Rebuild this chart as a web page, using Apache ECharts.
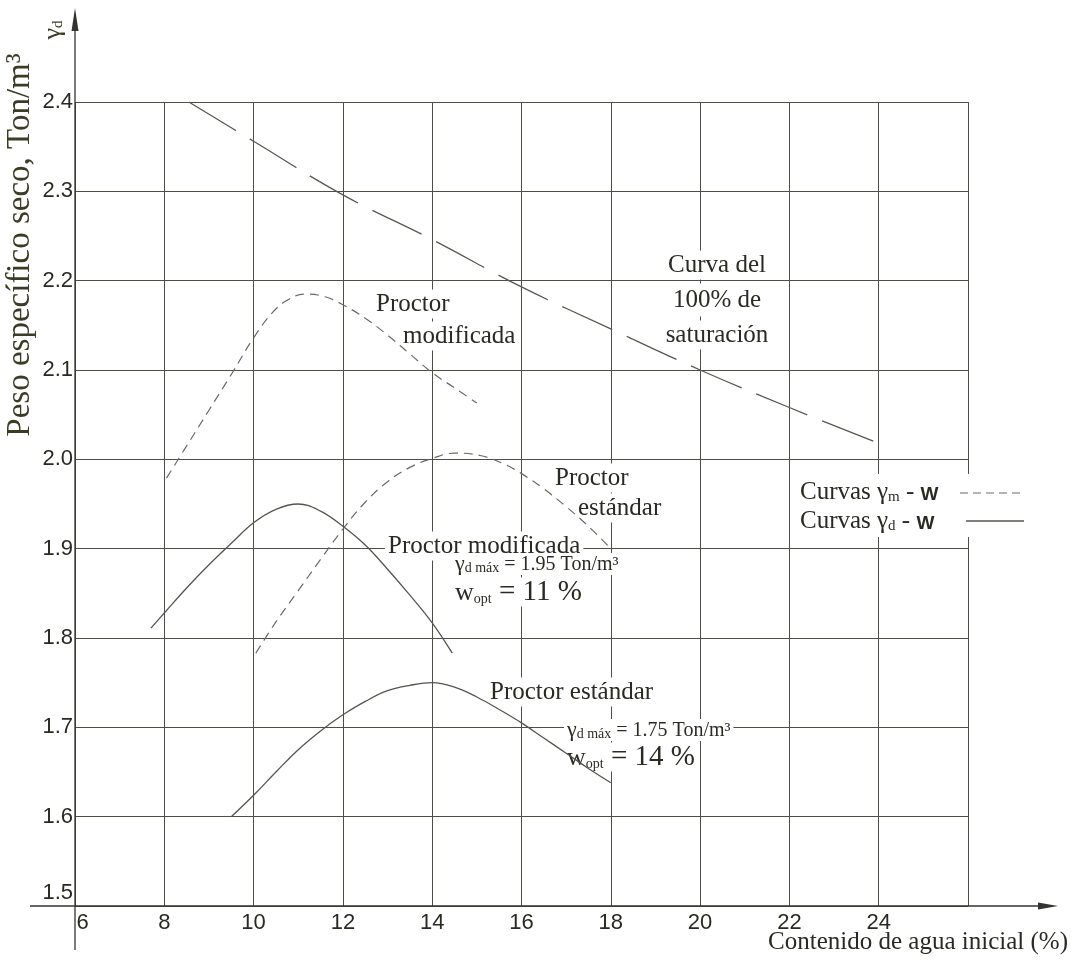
<!DOCTYPE html>
<html>
<head>
<meta charset="utf-8">
<title>Curvas de compactación Proctor</title>
<script src="https://cdn.jsdelivr.net/npm/echarts@6/dist/echarts.min.js"></script>
<style>
  html, body { margin: 0; padding: 0; background: #ffffff; }
  #chart { width: 1076px; height: 967px; }
</style>
</head>
<body>
<div id="chart"></div>
<script>
// Axis ticks
const xTicks = [6, 8, 10, 12, 14, 16, 18, 20, 22, 24, 26];
const yTicks = [1.5, 1.6, 1.7, 1.8, 1.9, 2.0, 2.1, 2.2, 2.3, 2.4];

// Curva del 100% de saturación
const satW = [8.55, 10, 12, 14, 16, 18, 20, 22, 24];
const satGamma = [2.4, 2.356, 2.296, 2.246, 2.193, 2.146, 2.1, 2.058, 2.018];

// Proctor modificada, curva γm - w (húmeda)
const modWetW = [8.05, 8.5, 9, 9.5, 10, 10.4, 10.75, 11.15, 11.6, 12, 12.5, 13, 13.5, 14, 14.5, 15];
const modWetGamma = [1.979, 2.015, 2.055, 2.095, 2.136, 2.163, 2.178, 2.185, 2.182, 2.173, 2.158, 2.139, 2.118, 2.097, 2.08, 2.063];

// Proctor estándar, curva γm - w (húmeda)
const stdWetW = [10.05, 10.5, 11, 11.5, 12, 12.5, 13, 13.5, 14, 14.5, 15.1, 15.6, 16, 16.5, 17, 17.5, 18];
const stdWetGamma = [1.783, 1.818, 1.853, 1.888, 1.922, 1.952, 1.975, 1.991, 2.001, 2.007, 2.004, 1.995, 1.984, 1.967, 1.947, 1.925, 1.9];

// Proctor modificada, curva γd - w (seca)
const modDryW = [7.7, 8, 8.5, 9, 9.5, 10, 10.5, 11, 11.5, 12, 12.5, 13, 13.5, 14, 14.45];
const modDryGamma = [1.811, 1.828, 1.856, 1.882, 1.906, 1.929, 1.944, 1.95, 1.942, 1.925, 1.904, 1.877, 1.848, 1.817, 1.783];

// Proctor estándar, curva γd - w (seca)
const stdDryW = [9.5, 10, 10.5, 11, 11.5, 12, 12.5, 13, 13.5, 14, 14.5, 15, 15.5, 16, 16.5, 17, 17.5, 18];
const stdDryGamma = [1.6, 1.624, 1.65, 1.675, 1.696, 1.714, 1.729, 1.741, 1.747, 1.75, 1.745, 1.734, 1.72, 1.705, 1.688, 1.671, 1.654, 1.638];

const SERIF = '"Liberation Serif", "Times New Roman", serif';
const SANS = '"Liberation Sans", Arial, sans-serif';
const INK = '#2a2a22';
const GRID = '#4e4e46';

function pairs(xs, ys) { return xs.map((x, i) => [x, ys[i]]); }

// máximo de una curva γd - w: [w óptima, γd máx]
function peak(xs, ys) {
  let k = 0;
  ys.forEach((v, i) => { if (v > ys[k]) k = i; });
  return [xs[k], ys[k]];
}

const chart = echarts.init(document.getElementById('chart'), null, { renderer: 'canvas' });

const curve = (name, xs, ys, color, width, dash) => ({
  name, type: 'line', data: pairs(xs, ys), smooth: 0.4, symbol: 'none', z: 3,
  lineStyle: { color, width, type: dash || 'solid', cap: 'butt' },
  emphasis: { disabled: true }
});

chart.setOption({
  animation: false,
  backgroundColor: '#ffffff',
  grid: { left: 75, right: 108, top: 102, bottom: 61, containLabel: false, outerBoundsMode: 'none' },
  xAxis: {
    type: 'value', min: xTicks[0], max: xTicks[xTicks.length - 1], interval: 2,
    axisLine: { show: false }, axisTick: { show: false },
    splitLine: { show: true, lineStyle: { color: GRID, width: 1 } },
    axisLabel: {
      margin: 6, color: INK, fontFamily: SANS, fontSize: 22,
      formatter: v => v === 26 ? '' : (v === 6 ? '{first|6}' : String(v)),
      rich: { first: { fontFamily: SANS, fontSize: 22, color: INK, padding: [0, 0, 0, 15] } }
    }
  },
  yAxis: {
    type: 'value', min: yTicks[0], max: yTicks[yTicks.length - 1], interval: 0.1,
    axisLine: { show: false }, axisTick: { show: false },
    splitLine: { show: true, lineStyle: { color: GRID, width: 1 } },
    axisLabel: {
      margin: 2, color: INK, fontFamily: SANS, fontSize: 22,
      formatter: v => {
        const s = v.toFixed(1);
        return s === '1.5' ? '{low|' + s + '}' : s;
      },
      rich: { low: { fontFamily: SANS, fontSize: 22, color: INK, padding: [0, 0, 26, 0] } }
    }
  },
  series: [
    curve('Saturación 100%', satW, satGamma, '#585852', 1.3, [55, 16]),
    curve('Modificada γm', modWetW, modWetGamma, '#6a6a64', 1.2, [9, 6]),
    curve('Estándar γm', stdWetW, stdWetGamma, '#6a6a64', 1.2, [9, 6]),
    curve('Modificada γd', modDryW, modDryGamma, '#55554f', 1.3),
    curve('Estándar γd', stdDryW, stdDryGamma, '#55554f', 1.3)
  ]
});

// ---- ejes con flecha, títulos y rótulos ----
const [x0, y0] = chart.convertToPixel({ gridIndex: 0 }, [xTicks[0], yTicks[0]]);
const AX = '#333330';

const modPk = peak(modDryW, modDryGamma);
const stdPk = peak(stdDryW, stdDryGamma);

function txt(x, y, text, rich, extra) {
  return {
    type: 'text', x, y, z: 1, silent: true,
    style: Object.assign({
      text, rich, fill: INK, align: 'left', verticalAlign: 'middle',
      fontFamily: SERIF, fontSize: 25,
      backgroundColor: '#ffffff', padding: [2, 3]
    }, extra || {})
  };
}

const big = { fontFamily: SERIF, fontSize: 25, fill: INK, verticalAlign: 'bottom' };
const sub = { fontFamily: SERIF, fontSize: 15, fill: INK, verticalAlign: 'bottom', lineHeight: 22 };
const wSans = { fontFamily: SANS, fontSize: 19, fontWeight: 'bold', fill: INK, verticalAlign: 'bottom', lineHeight: 25 };

const gmRich = {
  g: { fontFamily: SERIF, fontSize: 22, fill: INK, verticalAlign: 'bottom' },
  s: { fontFamily: SERIF, fontSize: 14, fill: INK, verticalAlign: 'bottom', lineHeight: 20 },
  m: { fontFamily: SERIF, fontSize: 20, fill: INK, verticalAlign: 'bottom' }
};
const wRich = {
  w: { fontFamily: SERIF, fontSize: 26, fill: INK, verticalAlign: 'bottom' },
  s: { fontFamily: SERIF, fontSize: 14, fill: INK, verticalAlign: 'bottom', lineHeight: 26 },
  m: { fontFamily: SERIF, fontSize: 29, fill: INK, verticalAlign: 'bottom' }
};

const gammaLine = pk => '{g|γ}{s|d máx}{m| = ' + pk[1].toFixed(2) + ' Ton/m³}';
const woptLine = pk => '{w|w}{s|opt}{m| = ' + Math.round(pk[0]) + ' %}';

chart.setOption({
  graphic: [
    // eje x con flecha
    { type: 'line', z: 4, silent: true, shape: { x1: 30, y1: y0, x2: 1045, y2: y0 }, style: { stroke: AX, lineWidth: 1.3 } },
    { type: 'polygon', z: 4, silent: true, shape: { points: [[1058, y0], [1038, y0 - 3.5], [1038, y0 + 3.5]] }, style: { fill: AX } },
    // eje y con flecha
    { type: 'line', z: 4, silent: true, shape: { x1: x0, y1: 950, x2: x0, y2: 26 }, style: { stroke: AX, lineWidth: 1.3 } },
    { type: 'polygon', z: 4, silent: true, shape: { points: [[x0, 8], [x0 - 3.5, 31], [x0 + 3.5, 31]] }, style: { fill: AX } },

    // títulos de ejes
    { type: 'text', z: 4, silent: true, x: 1068, y: 942,
      style: { text: 'Contenido de agua inicial (%)', fontFamily: SERIF, fontSize: 25, fill: INK, align: 'right', verticalAlign: 'middle' } },
    { type: 'text', z: 4, silent: true, x: 20, y: 245, rotation: Math.PI / 2,
      style: { text: 'Peso específico seco, Ton/m³', fontFamily: SERIF, fontSize: 33, fill: '#3b3b26', align: 'center', verticalAlign: 'middle' } },
    { type: 'text', z: 4, silent: true, x: 53, y: 30, rotation: Math.PI / 2,
      style: { text: '{g|γ}{s|d}', rich: {
        g: { fontFamily: SERIF, fontSize: 26, fill: '#3b3b26', verticalAlign: 'bottom' },
        s: { fontFamily: SERIF, fontSize: 15, fill: '#3b3b26', verticalAlign: 'bottom', lineHeight: 22 } },
        align: 'center', verticalAlign: 'middle' } },

    // rótulos de las curvas húmedas
    txt(373, 304, 'Proctor'),
    txt(400, 336, 'modificada'),
    txt(717, 265, 'Curva del', null, { align: 'center' }),
    txt(717, 300, '100% de', null, { align: 'center', padding: [4, 3] }),
    txt(717, 335, 'saturación', null, { align: 'center' }),
    txt(552, 478, 'Proctor'),
    txt(575, 508, 'estándar'),

    // leyenda
    { type: 'rect', z: 1, silent: true, shape: { x: 795, y: 474, width: 232, height: 63 }, style: { fill: '#ffffff' } },
    txt(797, 492, '{a|Curvas }{g|γ}{s|m}{a| - }{w|W}', { a: big, g: big, s: sub, w: wSans }, { backgroundColor: null }),
    txt(797, 521, '{a|Curvas }{g|γ}{s|d}{a| - }{w|W}', { a: big, g: big, s: sub, w: wSans }, { backgroundColor: null }),
    { type: 'line', z: 4, silent: true, shape: { x1: 960, y1: 493, x2: 1024, y2: 493 }, style: { stroke: '#6a6a64', lineWidth: 1.2, lineDash: [8, 5] } },
    { type: 'line', z: 4, silent: true, shape: { x1: 966, y1: 521, x2: 1024, y2: 521 }, style: { stroke: '#55554f', lineWidth: 1.3 } },

    // rótulos de las curvas secas
    txt(385, 546, 'Proctor modificada'),
    txt(452, 564, gammaLine(modPk), gmRich, { padding: [0, 3] }),
    txt(452, 592, woptLine(modPk), wRich, { padding: [0, 3] }),
    txt(487, 692, 'Proctor estándar'),
    txt(564, 730, gammaLine(stdPk), gmRich, { padding: [0, 3] }),
    txt(564, 757, woptLine(stdPk), wRich, { padding: [0, 3] })
  ]
});
</script>
</body>
</html>
